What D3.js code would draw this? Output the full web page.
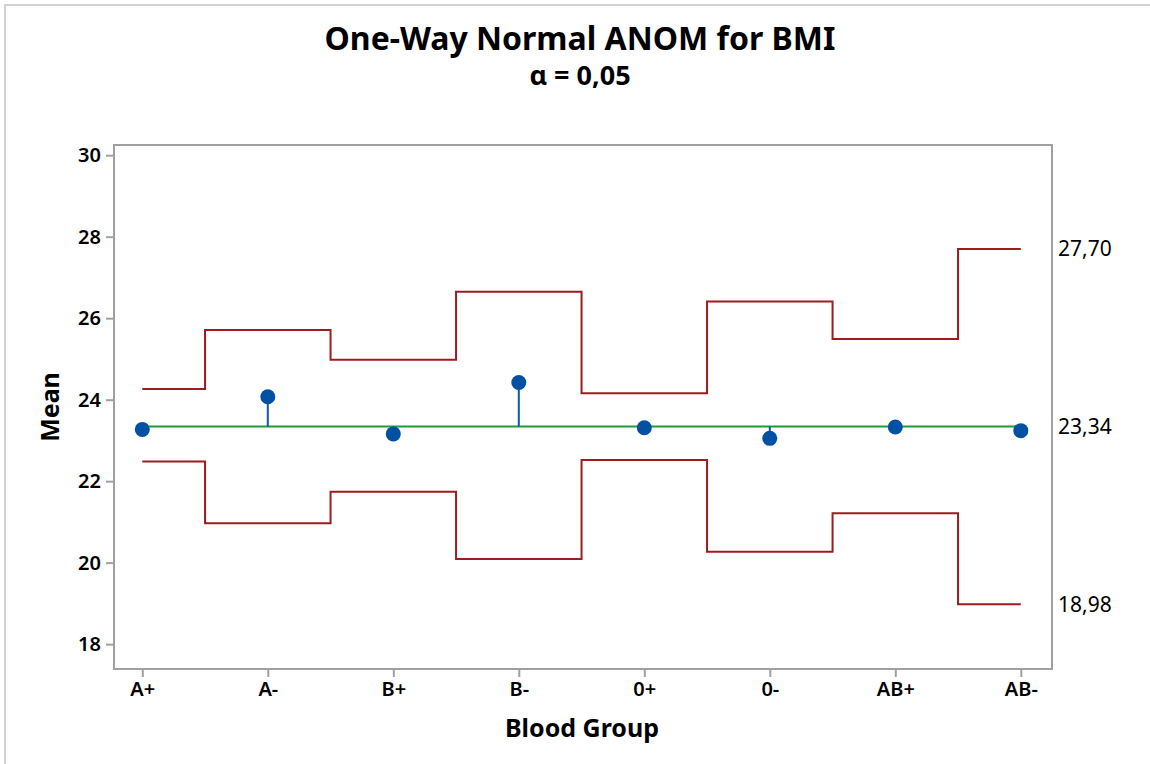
<!DOCTYPE html>
<html>
<head>
<meta charset="utf-8">
<script src="https://cdn.jsdelivr.net/npm/d3@7"></script>
<style>
  body { margin: 0; background: #fff; }
  svg { display: block; font-family: "Noto Sans", "Open Sans", sans-serif; }
</style>
</head>
<body>
<svg id="chart"></svg>
<script>
const categories = ["A+", "A-", "B+", "B-", "0+", "0-", "AB+", "AB-"];
const means = [23.27, 24.07, 23.16, 24.42, 23.31, 23.05, 23.33, 23.24];
const upperLimits = [24.26, 25.71, 24.98, 26.65, 24.16, 26.41, 25.49, 27.70];
const lowerLimits = [22.48, 20.97, 21.74, 20.09, 22.52, 20.27, 21.21, 18.98];
const centerLine = 23.34;
const yTicks = [18, 20, 22, 24, 26, 28, 30];
const refLabels = ["27,70", "23,34", "18,98"];
const refValues = [27.70, 23.34, 18.98];

const width = 1150, height = 764;
const plot = { left: 114, right: 1052, top: 145, bottom: 669 };

const svg = d3.select("#chart")
    .attr("width", width)
    .attr("height", height);

// outer frame of the graph window
svg.append("rect")
    .attr("x", 5).attr("y", 5)
    .attr("width", width + 20).attr("height", height + 20)
    .attr("fill", "none")
    .attr("stroke", "#d2d2d2")
    .attr("stroke-width", 2);

// scales
const x = d3.scalePoint()
    .domain(categories)
    .range([142.3, 1020.8]);

const y = d3.scaleLinear()
    .domain([17.39, 30.25])
    .range([plot.bottom, plot.top]);

// plot frame
svg.append("rect")
    .attr("x", plot.left).attr("y", plot.top)
    .attr("width", plot.right - plot.left)
    .attr("height", plot.bottom - plot.top)
    .attr("fill", "none")
    .attr("stroke", "#a0a0a0")
    .attr("stroke-width", 2);

// axes
const yAxis = svg.append("g")
    .attr("transform", `translate(${plot.left}, 0)`)
    .call(d3.axisLeft(y).tickValues(yTicks).tickSize(8).tickPadding(5));

const xAxis = svg.append("g")
    .attr("transform", `translate(0, ${plot.bottom})`)
    .call(d3.axisBottom(x).tickSize(8).tickPadding(5));

[yAxis, xAxis].forEach(g => {
    g.select(".domain").remove();
    g.selectAll(".tick line").attr("stroke", "#a0a0a0").attr("stroke-width", 2);
    g.selectAll(".tick text")
        .attr("fill", "#000")
        .attr("font-family", "Noto Sans, Open Sans, sans-serif")
        .attr("font-weight", 600)
        .attr("font-size", 20);
});

// decision limits
const stepLine = d3.line()
    .x((d, i) => x(categories[i]))
    .y(d => y(d))
    .curve(d3.curveStep);

[upperLimits, lowerLimits].forEach(lim => {
    svg.append("path")
        .datum(lim)
        .attr("d", stepLine)
        .attr("fill", "none")
        .attr("stroke", "#9e1b1f")
        .attr("stroke-width", 2);
});

// center line
svg.append("line")
    .attr("x1", x(categories[0]))
    .attr("x2", x(categories[categories.length - 1]))
    .attr("y1", y(centerLine))
    .attr("y2", y(centerLine))
    .attr("stroke", "#1f9a3b")
    .attr("stroke-width", 2);

// stems and points
svg.selectAll(".stem")
    .data(means)
    .enter()
    .append("line")
    .attr("class", "stem")
    .attr("x1", (d, i) => x(categories[i]))
    .attr("x2", (d, i) => x(categories[i]))
    .attr("y1", y(centerLine))
    .attr("y2", d => y(d))
    .attr("stroke", "#0a5aa8")
    .attr("stroke-width", 2);

svg.selectAll(".pt")
    .data(means)
    .enter()
    .append("circle")
    .attr("class", "pt")
    .attr("cx", (d, i) => x(categories[i]))
    .attr("cy", d => y(d))
    .attr("r", 7.5)
    .attr("fill", "#0051a3");

// reference labels on the right
svg.selectAll(".ref")
    .data(refValues)
    .enter()
    .append("text")
    .attr("class", "ref")
    .attr("x", 1058)
    .attr("y", d => y(d))
    .attr("dy", "0.35em")
    .attr("font-size", 21)
    .attr("fill", "#000")
    .text((d, i) => refLabels[i]);

// titles
svg.append("text")
    .attr("x", 580).attr("y", 50)
    .attr("text-anchor", "middle")
    .attr("font-size", 32)
    .attr("font-weight", "bold")
    .text("One-Way Normal ANOM for BMI");

svg.append("text")
    .attr("x", 580).attr("y", 85)
    .attr("text-anchor", "middle")
    .attr("font-size", 27)
    .attr("font-weight", "bold")
    .text("α = 0,05");

svg.append("text")
    .attr("x", 582).attr("y", 737)
    .attr("text-anchor", "middle")
    .attr("font-size", 25)
    .attr("font-weight", "bold")
    .text("Blood Group");

svg.append("text")
    .attr("transform", "translate(59, 407) rotate(-90)")
    .attr("text-anchor", "middle")
    .attr("font-size", 25)
    .attr("font-weight", "bold")
    .text("Mean");
</script>
</body>
</html>
